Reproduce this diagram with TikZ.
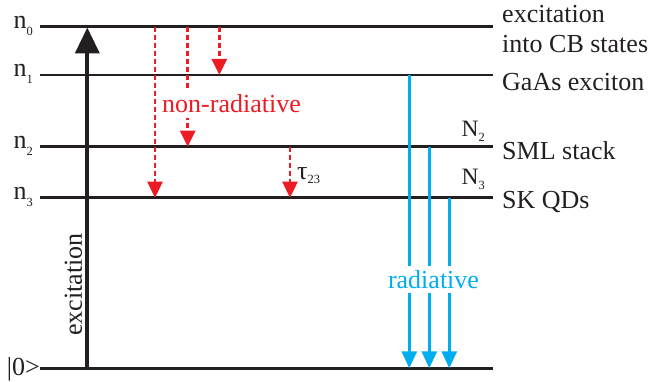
\documentclass[tikz,border=0pt]{standalone}
\usepackage{fontspec}
\setmainfont{Liberation Serif}
\usetikzlibrary{arrows.meta}
\definecolor{nrred}{RGB}{237,28,36}
\definecolor{radblue}{RGB}{0,174,239}
\definecolor{ink}{RGB}{35,31,32}
\newcommand{\lsub}[2][7pt]{\raisebox{-#1}{\fontsize{12.5}{12.5}\selectfont #2}}
\begin{document}
\begin{tikzpicture}[x=1pt,y=-1pt,
  font=\fontsize{26}{29}\selectfont, text=ink,
  level/.style={draw=ink, line width=2.6pt},
  excite/.style={draw=ink, line width=4pt, -{Triangle[length=26pt,width=24pt]}},
  nonrad/.style={draw=nrred, line width=2.7pt, dash pattern=on 5pt off 3pt, -{Triangle[length=16pt,width=15pt]}},
  rad/.style={draw=radblue, line width=2.7pt, -{Triangle[length=17pt,width=15pt]}},
  lbl/.style={inner sep=0pt, anchor=base west},
  llbl/.style={inner sep=0pt, anchor=base east},
  nlbl/.style={inner sep=0pt, anchor=base west, font=\fontsize{23.5}{26}\selectfont}
]
\useasboundingbox (0,0) rectangle (653,382);
% level lines
\coordinate (L0a) at (40,26.7);  \coordinate (L0b) at (493,26.7);
\coordinate (L1a) at (40,75);    \coordinate (L1b) at (493,75);
\coordinate (L2a) at (40,146.7); \coordinate (L2b) at (493,146.7);
\coordinate (L3a) at (40,197.7); \coordinate (L3b) at (493,197.7);
\coordinate (Ga) at (40,368.3);  \coordinate (Gb) at (493,368.3);
\draw[level] (L0a) -- (L0b);
\draw[level] (L1a) -- (L1b);
\draw[level] (L2a) -- (L2b);
\draw[level] (L3a) -- (L3b);
\draw[level] (Ga) -- (Gb);
% excitation arrow
\coordinate (ex0) at (87.3,368.3); \coordinate (ex1) at (87.3,27.5);
\draw[excite] (ex0) -- (ex1);
\node[rotate=90, inner sep=0pt] (exlbl) at (73.5,284.5) {excitation};
% non-radiative arrows
\coordinate (r1a) at (155,26.7);   \coordinate (r1b) at (155,197.7);
\coordinate (r2a) at (187.7,26.7); \coordinate (r2b) at (187.7,146.7);
\coordinate (r3a) at (219.3,26.7); \coordinate (r3b) at (219.3,75);
\coordinate (r4a) at (290,146.7);  \coordinate (r4b) at (290,197.7);
\draw[nonrad] (r1a) -- (r1b);
\draw[nonrad] (r2a) -- (r2b);
\draw[nonrad] (r3a) -- (r3b);
\draw[nonrad] (r4a) -- (r4b);
\node[fill=white, inner xsep=1pt, inner ysep=4.5pt, text=nrred] (nr) at (231.5,104) {non-radiative};
\node[lbl] (tau) at (297,180) {τ\lsub[4pt]{23}};
% radiative arrows
\coordinate (b1a) at (409.3,75);    \coordinate (b1b) at (409.3,368.3);
\coordinate (b2a) at (429.3,146.7); \coordinate (b2b) at (429.3,368.3);
\coordinate (b3a) at (449.3,197.7); \coordinate (b3b) at (449.3,368.3);
\draw[rad] (b1a) -- (b1b);
\draw[rad] (b2a) -- (b2b);
\draw[rad] (b3a) -- (b3b);
\node[fill=white, inner xsep=1pt, inner ysep=4pt, text=radblue] (rl) at (433.5,279.5) {radiative};
% left labels
\node[llbl] (n0) at (33,28.5) {n\lsub{0}};
\node[llbl] (n1) at (33,76.7) {n\lsub{1}};
\node[llbl] (n2) at (33,149) {n\lsub{2}};
\node[llbl] (n3) at (33,200) {n\lsub{3}};
\node[llbl] (g0) at (40,375) {|0>};
% right labels
\node[lbl] (t0a) at (502,22.7) {excitation};
\node[lbl] (t0b) at (502,52.3) {into CB states};
\node[lbl] (t1) at (502,90.5) {GaAs exciton};
\node[lbl] (t2) at (502,160) {SML stack};
\node[lbl] (t3) at (502,208) {SK QDs};
\node[nlbl] (N2) at (461.5,136.7) {N\lsub[5pt]{2}};
\node[nlbl] (N3) at (461.5,185) {N\lsub[5pt]{3}};
\end{tikzpicture}
\end{document}
